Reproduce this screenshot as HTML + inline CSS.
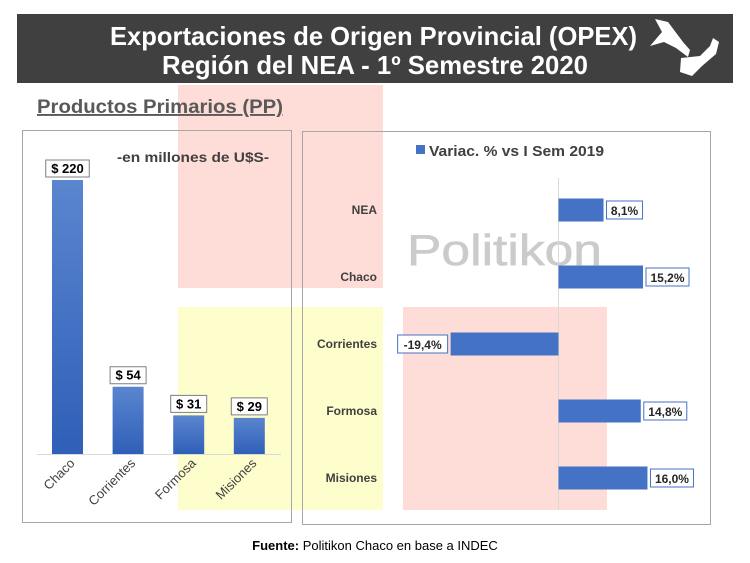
<!DOCTYPE html>
<html><head><meta charset="utf-8"><style>
html,body{margin:0;padding:0;background:#fff;}
svg{display:block;font-family:"Liberation Sans",Arial,sans-serif;}
</style></head><body>
<svg id="chart" width="750" height="563" viewBox="0 0 750 563">
<defs>
<linearGradient id="gb" x1="0" y1="0" x2="0" y2="1"><stop offset="0" stop-color="#5a85cf"/><stop offset="1" stop-color="#2f5fb8"/></linearGradient>
</defs>
<rect x="178" y="85" width="205" height="203" fill="#fedcd8"/>
<rect x="178" y="307" width="205" height="203" fill="#fefdcc"/>
<rect x="403" y="307" width="204" height="203" fill="#fedcd8"/>
<rect x="17" y="14" width="716" height="69" fill="#404040"/>
<text x="110" y="45" fill="#fff" font-size="26" font-weight="bold" textLength="527" lengthAdjust="spacingAndGlyphs">Exportaciones de Origen Provincial (OPEX)</text>
<text x="162" y="74" fill="#fff" font-size="26" font-weight="bold" textLength="426" lengthAdjust="spacingAndGlyphs">Región del NEA - 1º Semestre 2020</text>
<path d="M655 19 L668 22 L683 42 L690 50 L688 57 L676 48 L664 42 L650 46 L662 32 Z M681 58 L700 56 L710 46 L713 38 L719 42 L716 54 L702 66 L692 76 L680 72 Z" fill="#fff"/>
<text x="37" y="113" fill="#595959" font-size="19" font-weight="bold" text-decoration="underline" textLength="246" lengthAdjust="spacingAndGlyphs">Productos Primarios (PP)</text>
<rect x="22.5" y="130.5" width="269" height="392" fill="none" stroke="#a6a6a6"/>
<rect x="302.5" y="131.5" width="408" height="393" fill="none" stroke="#a6a6a6"/>
<text x="117" y="162" fill="#404040" font-size="14" font-weight="bold" textLength="152" lengthAdjust="spacingAndGlyphs">-en millones de U$S-</text>
<line x1="37" y1="454.5" x2="281" y2="454.5" stroke="#d9d9d9"/>
<text x="407" y="265" fill="#cbcbcb" font-size="44" stroke="#cbcbcb" stroke-width="0.6" textLength="195" lengthAdjust="spacingAndGlyphs">Politikon</text>
<rect x="416" y="145" width="9" height="9" fill="#4472c4"/>
<text x="429" y="156" fill="#404040" font-size="15" font-weight="bold" textLength="175" lengthAdjust="spacingAndGlyphs">Variac. % vs I Sem 2019</text>
<line x1="558.5" y1="178" x2="558.5" y2="510" stroke="#d9d9d9"/>
<g id="left"></g><g id="right"></g>
<text x="375" y="550" fill="#000" font-size="13" text-anchor="middle"><tspan font-weight="bold">Fuente:</tspan> Politikon Chaco en base a INDEC</text>
</svg>
<script>
const leftCats=["Chaco","Corrientes","Formosa","Misiones"];
const leftVals=[220,54,31,29];
const leftLabels=["$ 220","$ 54","$ 31","$ 29"];
const rightCats=["NEA","Chaco","Corrientes","Formosa","Misiones"];
const rightVals=[8.1,15.2,-19.4,14.8,16.0];
const rightLabels=["8,1%","15,2%","-19,4%","14,8%","16,0%"];
const NS="http://www.w3.org/2000/svg";
function mk(t,a,p){const e=document.createElementNS(NS,t);for(const k in a)e.setAttribute(k,a[k]);p.appendChild(e);return e;}
const L=document.getElementById('left'),R=document.getElementById('right');
const base=454, yS=v=>base-v*274/220, xC=i=>67.5+i*60.6;
leftVals.forEach((v,i)=>{
 const b=mk('rect',{x:xC(i)-15.5,y:yS(v),width:31,height:base-yS(v),fill:'url(#gb)'},L);
 
 
 const w=leftLabels[i].length*7.5+6;
 const bx=mk('rect',{x:xC(i)-w/2,y:yS(v)-20,width:w,height:17,fill:'#fff',stroke:'#7f7f7f'},L);
 
 
 const t=mk('text',{x:xC(i),y:yS(v)-7,'font-size':13,'font-weight':'bold','text-anchor':'middle',fill:'#000'},L);
 t.textContent=leftLabels[i];
 
 
 const c=mk('text',{x:xC(i)+8,y:464,'font-size':13,'text-anchor':'end',fill:'#404040',transform:`rotate(-45 ${xC(i)+8} 464)`},L);
 c.textContent=leftCats[i];
 
 
});
const x0=558.5, xS=v=>x0+v*5.56, yR=i=>210+i*67;
rightVals.forEach((v,i)=>{
 const n=rightCats[i].toLowerCase();
 const x1=Math.min(x0,xS(v)),x2=Math.max(x0,xS(v));
 const b=mk('rect',{x:x1,y:yR(i)-11.5,width:x2-x1,height:23,fill:'#4472c4'},R);
 
 
 const w=rightLabels[i].length*7+8;
 const bx=v>=0?xS(v)+3:xS(v)-3-w;
 const r=mk('rect',{x:bx,y:yR(i)-9,width:w,height:18,fill:'#fff',stroke:'#4472c4'},R);
 
 
 const t=mk('text',{x:bx+w/2,y:yR(i)+5,'font-size':12,'font-weight':'bold','text-anchor':'middle',fill:'#262626'},R);
 t.textContent=rightLabels[i];
 
 
 const c=mk('text',{x:377,y:yR(i)+4,'font-size':12,'font-weight':'bold','text-anchor':'end',fill:'#404040'},R);
 c.textContent=rightCats[i];
 
 
});
</script>
</body></html>
